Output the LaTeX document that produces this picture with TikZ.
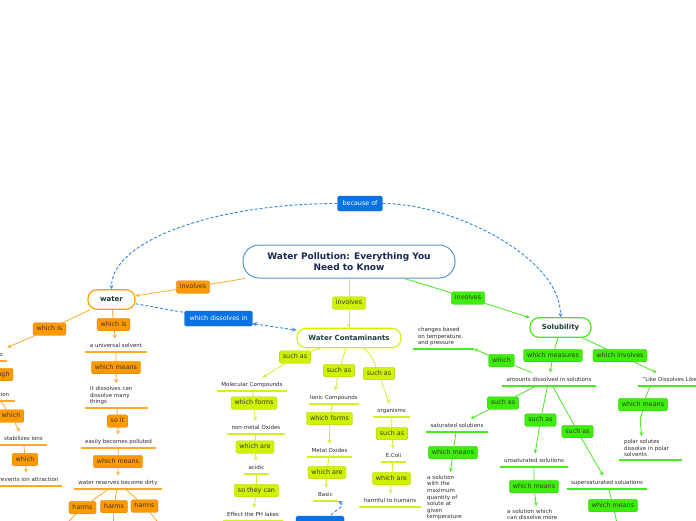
\documentclass[tikz,border=0pt]{standalone}
\usepackage{fontspec}
\setmainfont{DejaVu Sans}
\usetikzlibrary{positioning}
\definecolor{orng}{RGB}{255,153,0}
\definecolor{orngline}{RGB}{255,168,40}
\definecolor{limeg}{RGB}{208,242,0}
\definecolor{limeline}{RGB}{212,240,30}
\definecolor{grn}{RGB}{60,238,10}
\definecolor{grnline}{RGB}{70,235,30}
\definecolor{blu}{RGB}{10,115,228}
\definecolor{bluline}{RGB}{45,135,225}
\definecolor{titleline}{RGB}{85,150,210}
\definecolor{navy}{RGB}{25,40,85}
\definecolor{pilltext}{RGB}{30,60,60}
\definecolor{labtext}{RGB}{55,55,45}
\definecolor{txt}{RGB}{45,45,45}
\begin{document}
\begin{tikzpicture}[x=1pt, y=1pt, >=stealth,
  lab/.style={rounded corners=1.5pt, inner xsep=3.5pt, inner ysep=0pt, minimum height=12.5pt,
    text height=4.6pt, text depth=1.3pt, font=\fontsize{6.4}{7}\selectfont, text=labtext, line width=0.3pt},
  olab/.style={lab, fill=orng, draw=orng!85!black},
  llab/.style={lab, fill=limeg, draw=limeg!85!black},
  glab/.style={lab, fill=grn, draw=grn!85!black},
  blab/.style={lab, fill=blu, draw=blu!85!black, text=white, minimum height=15pt, inner xsep=5pt},
  pill/.style={draw, fill=white, rounded corners=9pt, line width=1.1pt, minimum height=19.5pt,
    font=\bfseries\fontsize{7}{8}\selectfont, text=pilltext, minimum width=#1},
  under/.style={append after command={(\tikzlastnode.south west) edge[draw=#1, line width=1.3pt] (\tikzlastnode.south east)}},
  topic/.style={anchor=south, inner xsep=0pt, inner ysep=4pt, text height=5pt, text depth=0pt,
    font=\fontsize{5.5}{6.6}\selectfont, text=txt, minimum width=#1},
  ltopic/.style={anchor=south, inner xsep=5pt, inner ysep=3pt, align=left, text width=#1,
    font=\fontsize{5.5}{6.6}\selectfont, text=txt},
  oline/.style={draw=orngline, line width=0.8pt},
  lline/.style={draw=limeline, line width=0.8pt},
  gline/.style={draw=grnline, line width=0.8pt},
  bdash/.style={draw=bluline, line width=0.9pt, dash pattern=on 3pt off 2pt}]
\useasboundingbox[fill=white] (0,0) rectangle (696,-520);

% central topic
\node[draw=titleline, fill=white, rounded corners=16pt, line width=1pt, minimum width=212pt, minimum height=33pt,
  align=center, font=\bfseries\fontsize{9}{11}\selectfont, text=navy] (title) at (349,-261.5) {Water Pollution: Everything You\\Need to Know};
\node[blab] (bof) at (360,-203.5) {because of};

% water
\node[pill=47pt, draw=orng] (water) at (111.5,-299.5) {water};
\node[olab] (winv) at (193,-287) {involves};
\node[blab] (wdis) at (218.5,-318.5) {which dissolves in};
\node[olab] (wis1) at (49.5,-329) {which is};
\node[topic=42pt, under=orngline] (pol) at (-14,-361) {polar due to};
\node[olab] (thr) at (-3,-374.5) {through};
\node[topic=38pt, under=orngline] (hyd) at (-4,-401) {hydration};
\node[olab] (wh1) at (11,-416) {which};
\node[topic=47pt, under=orngline] (stab) at (23.5,-445) {stabilizes ions};
\node[olab] (wh2) at (25,-459.5) {which};
\node[topic=70pt, under=orngline] (prev) at (27,-486) {prevents ion attraction};
\node[olab] (wis2) at (113.5,-324.5) {which is};
\node[topic=62pt, under=orngline] (uni) at (116,-352) {a universal solvent};
\node[olab] (wm1) at (116,-367.5) {which means};
\node[ltopic=53pt, under=orngline] (dis) at (116.5,-408) {it dissolves can\\dissolve many\\things};
\node[olab] (soit) at (117.5,-421) {so it};
\node[topic=75pt, under=orngline] (easy) at (118.5,-448) {easily becomes polluted};
\node[olab] (wm2) at (118,-461.5) {which means};
\node[topic=88pt, under=orngline] (dirty) at (118,-489) {water reserves become dirty};
\node[olab] (h1) at (82.5,-507.5) {harms};
\node[olab] (h2) at (114,-506.5) {harms};
\node[olab] (h3) at (144.5,-506) {harms};
\coordinate (h1e) at (58,-532);
\coordinate (h2e) at (113,-532);
\coordinate (h3e) at (166,-532);

% water contaminants
\node[pill=104pt, draw=limeg] (wc) at (349,-338) {Water Contaminants};
\node[llab] (cinv) at (349,-303) {involves};
\node[llab] (sa1) at (295,-357) {such as};
\node[topic=70pt, under=limeline] (mol) at (252,-391) {Molecular Compounds};
\node[llab] (wf1) at (254,-403) {which forms};
\node[topic=58pt, under=limeline] (nmo) at (256,-434) {non-metal Oxides};
\node[llab] (wa1) at (255,-447) {which are};
\node[topic=25pt, under=limeline] (acid) at (256.5,-474) {acidic};
\node[llab] (stc) at (256.5,-490.5) {so they can};
\node[topic=60pt, under=limeline] (eff) at (253,-521) {Effect the PH lakes};
\node[llab] (sa2) at (339,-370.5) {such as};
\node[topic=50pt, under=limeline] (ionic) at (334,-404) {Ionic Compounds};
\node[llab] (wf2) at (329.5,-418.5) {which forms};
\node[topic=45pt, under=limeline] (mox) at (329.5,-457) {Metal Oxides};
\node[llab] (wa2) at (327,-472.5) {which are};
\node[topic=25pt, under=limeline] (basic) at (325.5,-501) {Basic};
\node[blab, minimum width=48pt, minimum height=13pt] (bq) at (320,-522.5) {};
\node[llab] (sa3) at (379,-373.5) {such as};
\node[topic=37pt, under=limeline] (org) at (391.5,-417) {organisms};
\node[llab] (sa4) at (392,-433.5) {such as};
\node[topic=25pt, under=limeline] (ecoli) at (393.5,-462) {E.Coli};
\node[llab] (wa3) at (391.5,-478.5) {which are};
\node[topic=62pt, under=limeline] (harm) at (390,-507) {harmful to humans};

% solubility
\node[pill=61pt, draw=grn] (sol) at (560.5,-327.5) {Solubility};
\node[glab] (sinv) at (468,-298) {involves};
\node[glab] (wmeas) at (553,-355.5) {which measures};
\node[topic=94pt, under=grnline] (amt) at (549,-386) {amounts dissolved in solutions};
\node[glab] (wh3) at (501.5,-360.5) {which};
\node[ltopic=51pt, under=grnline] (chg) at (443.5,-349) {changes based\\on temperature,\\and pressure};
\node[glab] (winv2) at (620,-355.5) {which involves};
\node[topic=66pt, under=grnline] (like) at (671,-386) {"Like Dissolves Like"};
\node[glab] (wm5) at (643,-404.5) {which means};
\node[ltopic=53pt, under=grnline] (polar) at (650.5,-460) {polar solutes\\dissolve in polar\\solvents};
\node[glab] (sa5) at (503,-403) {such as};
\node[topic=62pt, under=grnline] (sat) at (457,-432) {saturated solutions};
\node[glab] (wm6) at (453,-452.5) {which means};
\node[ltopic=40pt, anchor=north west] (satd) at (422,-472) {a solution\\with the\\maximum\\quantity of\\solute at\\given\\temperature};
\node[glab] (sa6) at (540.5,-420) {such as};
\node[topic=68pt, under=grnline] (unsat) at (534,-467) {unsaturated solutions};
\node[glab] (wm7) at (534,-486.5) {which means};
\node[ltopic=60pt, anchor=north west] (unsd) at (502,-506) {a solution which\\can dissolve more};
\node[glab] (sa7) at (577.5,-431.5) {such as};
\node[topic=80pt, under=grnline] (super) at (607,-489) {supersaturated soluations};
\node[glab] (wm8) at (613,-505.5) {which means};
\coordinate (wm8e) at (619,-532);

% orange links
\draw[oline,->] (title) -- (winv) -- (water);
\draw[oline,->] (water) -- (wis1) -- (pol.north east);
\draw[oline] (pol) -- (thr);
\draw[oline,->] (thr) -- (hyd);
\draw[oline,->] (hyd) -- (wh1) -- (stab);
\draw[oline,->] (stab) -- (wh2) -- (prev);
\draw[oline,->] (water) -- (wis2) -- (uni);
\draw[oline,->] (uni) -- (wm1) -- (dis);
\draw[oline,->] (dis) -- (soit) -- (easy);
\draw[oline,->] (easy) -- (wm2) -- (dirty);
\draw[oline] (dirty) -- (h1) -- (h1e);
\draw[oline] (dirty) -- (h2) -- (h2e);
\draw[oline] (dirty) -- (h3) -- (h3e);

% lime links
\draw[lline,->] (title) -- (cinv) -- (wc);
\draw[lline,->] (wc) -- (sa1) -- (mol);
\draw[lline,->] (mol) -- (wf1) -- (nmo);
\draw[lline,->] (nmo) -- (wa1) -- (acid);
\draw[lline,->] (acid) -- (stc) -- (eff);
\draw[lline,->] (wc) -- (sa2) -- (ionic);
\draw[lline,->] (ionic) -- (wf2) -- (mox);
\draw[lline,->] (mox) -- (wa2) -- (basic);
\draw[lline] (wc) to[bend left=15] (sa3);
\draw[lline,->] (sa3) -- (org);
\draw[lline,->] (org) -- (sa4) -- (ecoli);
\draw[lline,->] (ecoli) -- (wa3) -- (harm);

% green links
\draw[gline,->] (title) -- (sinv) -- (sol);
\draw[gline,->] (sol) -- (wmeas) -- (amt);
\draw[gline,->] (amt) -- (wh3) -- (chg.south east);
\draw[gline,->] (sol) -- (winv2) -- (like);
\draw[gline] ([xshift=-21pt]like.south) -- (wm5);
\draw[gline,->] (wm5.south) .. controls +(-5,-9) and +(0,9) .. ([xshift=-9pt]polar.north);
\draw[gline,->] (amt) -- (sa5) -- (sat);
\draw[gline,->] (sat) -- (wm6) -- (satd);
\draw[gline,->] (amt) -- (sa6) -- (unsat);
\draw[gline,->] (unsat) -- (wm7) -- (unsd);
\draw[gline,->] (amt) -- (sa7) -- (super);
\draw[gline] (super) -- (wm8) -- (wm8e);

% blue cross links
\draw[bdash,->] (bof.west) .. controls +(-124,0) and +(0,48) .. (water.north);
\draw[bdash,->] (bof.east) .. controls +(70,0) and +(0,60) .. (sol.north);
\draw[bdash,<->] (water) -- (wdis) -- (wc);
\draw[bdash,<-] (basic.south east) .. controls +(8,-5) and +(5,6) .. ([xshift=-14pt]bq.north east);
\end{tikzpicture}
\end{document}
